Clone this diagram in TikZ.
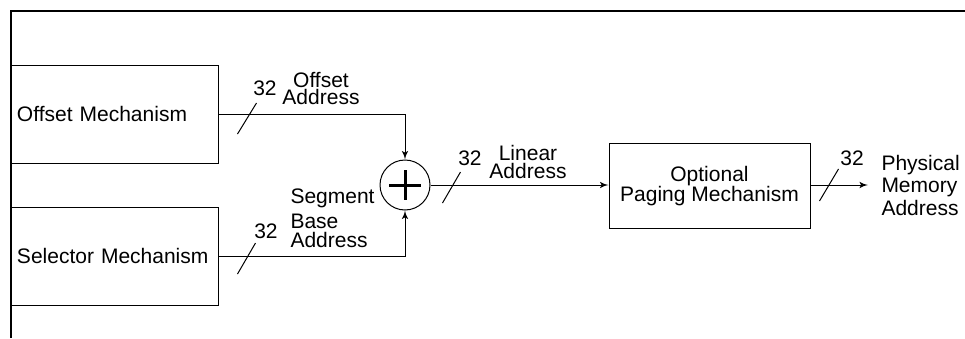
\documentclass[tikz,border=0pt]{standalone}
\usepackage{fontspec}
\setmainfont{Liberation Sans}
\usetikzlibrary{positioning, arrows}

\begin{document}
\begin{tikzpicture}[>=latex', x=0.5pt, y=-0.5pt, line width=0.5pt,
                  font=\fontsize{10.5pt}{10pt}\selectfont,
                  block/.style={draw, rectangle, inner sep=3pt,
                  minimum width=103.5pt, minimum height=49pt},
                  tag/.style={inner sep=0pt, align=center},
                  lines/.style={font=\fontsize{10.5pt}{#1}\selectfont,
                  execute at begin node={\lineskiplimit=-10pt\relax}}]

                  % Marco de la figura.
                  \useasboundingbox (0,0) rectangle (965,338);
                  \draw[line width=1pt] (11,338) -- (11,11) -- (965,11);

                  % Bloques del circuito.
                  \node[block, text width=97.5pt, align=left] (offset) at (114.5,114) {Offset Mechanism};
                  \node[block, text width=97.5pt, align=left] (selector) at (114.5,256) {Selector Mechanism};
                  \node[circle, draw, minimum size=25pt, inner sep=0pt] (sum) at (405,185) {};
                  \node[block, minimum width=100.5pt, minimum height=42.5pt, align=center, lines=10pt]
                  (paging) at (709.5,186) {Optional\\Paging Mechanism};
                  \coordinate (out) at (868,185);
                  \draw[line width=1.5pt] (sum.center) ++(-16,0) -- ++(32,0)
                  (sum.center) ++(0,-15) -- ++(0,30);

                  % Conexiones entre bloques.
                  \draw[->] (offset.east) -| (sum.north);
                  \draw[->] (selector.east) -| (sum.south);
                  \draw[->] (sum.east) -- (sum.east -| paging.west);
                  \draw[->] (paging.east |- sum.east) -- (out);

                  % Marcas de ancho de bus.
                  \draw (offset.east) ++(19,20) -- ++(19,-31);
                  \draw (selector.east) ++(19,18) -- ++(18,-31);
                  \draw (sum.east) ++(12,18) -- ++(18,-31);
                  \draw (paging.east |- sum.east) ++(9,16) -- ++(19,-32);

                  % Etiquetas de las señales.
                  \node[tag] (w1) at (265,88) {32};
                  \node[tag, lines=8.3pt] (offaddr) at (321,88.5) {Offset\\Address};
                  \node[tag] (w2) at (266,231) {32};
                  \node[tag, align=left, anchor=west, lines=9.5pt] (segaddr) at (290,218)
                  {Segment\\[3pt]Base\\Address};
                  \node[tag] (w3) at (470,158) {32};
                  \node[tag, lines=8.8pt] (linaddr) at (528,162) {Linear\\Address};
                  \node[tag] (w4) at (852,158) {32};
                  \node[tag, align=left, lines=11.25pt, right=6.5pt of out] (physaddr)
                  {Physical\\Memory\\Address};

\end{tikzpicture}
\end{document}
